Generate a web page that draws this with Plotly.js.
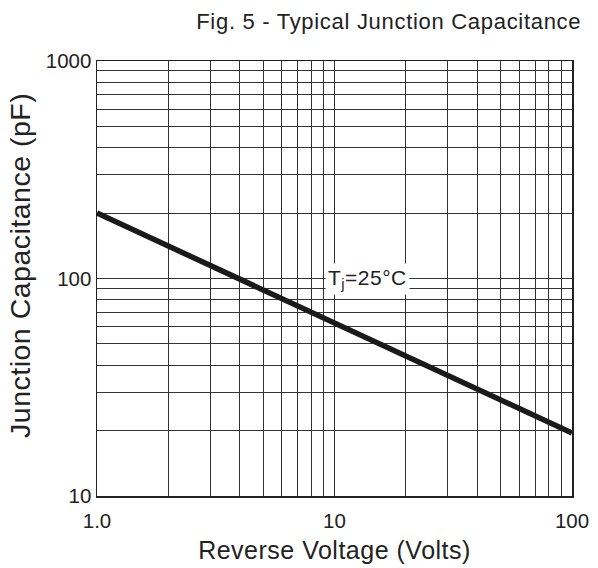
<!DOCTYPE html>
<html><head><meta charset="utf-8">
<script src="https://cdn.plot.ly/plotly-3.0.1.min.js"></script>
<style>html,body{margin:0;padding:0;background:#fff}#chart{width:598px;height:568px}
.gtitle{letter-spacing:0.7px}.xtitle,.annotation-text{letter-spacing:0.5px}</style>
</head><body><div id="chart"></div>
<script>
// Data
const reverseVoltage = [1, 100];
const junctionCap = [200, 19.5];
const xTickVals = [1,2,3,4,5,6,7,8,9,10,20,30,40,50,60,70,80,90,100];
const xTickText = ['1.0','','','','','','','','','10','','','','','','','','','100'];
const yTickVals = [10,20,30,40,50,60,70,80,90,100,200,300,400,500,600,700,800,900,1000];
const yTickText = ['10','','','','','','','','','100','','','','','','','','','1000'];
const yTitleText = 'Junction Capacitance (pF)';
const noteText = 'T<sub>j</sub>=25°C';
const noteX = 13.8, noteY = 100;

const font = {family: 'Liberation Sans, Arial, sans-serif', color: '#222'};
const data = [{
  x: reverseVoltage, y: junctionCap, type: 'scatter', mode: 'lines',
  line: {color: '#1a1a1a', width: 5.5}, hoverinfo: 'skip'
}];
const layout = {
  width: 598, height: 568,
  margin: {l: 97, r: 26, t: 61, b: 72},
  paper_bgcolor: '#fff', plot_bgcolor: '#fff',
  showlegend: false,
  font: Object.assign({size: 20}, font),
  title: {text: 'Fig. 5 - Typical Junction Capacitance', font: Object.assign({size: 22}, font),
          x: 0.972, xanchor: 'right', xref: 'container', y: 0.962, yanchor: 'middle'},
  xaxis: {
    type: 'log', range: [0, 2], tickvals: xTickVals, ticktext: xTickText,
    showgrid: true, gridcolor: '#333', gridwidth: 1, ticks: '', zeroline: false,
    showline: true, linecolor: '#222', linewidth: 1.5, mirror: true,
    tickfont: Object.assign({size: 20.5}, font), ticklabelstandoff: 6,
    title: {text: 'Reverse Voltage (Volts)', font: Object.assign({size: 25}, font), standoff: 10}
  },
  yaxis: {
    type: 'log', range: [1, 3], tickvals: yTickVals, ticktext: yTickText,
    showgrid: true, gridcolor: '#333', gridwidth: 1, ticks: '', zeroline: false,
    showline: true, linecolor: '#222', linewidth: 1.5, mirror: true,
    tickfont: Object.assign({size: 20.5}, font)
  },
  annotations: [{
    x: Math.log10(noteX), y: Math.log10(noteY), xref: 'x', yref: 'y',
    text: noteText, showarrow: false, bgcolor: '#fff',
    font: Object.assign({size: 21}, font), borderpad: 2
  }, {
    x: -0.162, y: 0.529, xref: 'paper', yref: 'paper', xanchor: 'center', yanchor: 'middle',
    text: yTitleText, textangle: -90, showarrow: false,
    font: Object.assign({size: 28.5}, font)
  }]
};
Plotly.newPlot('chart', data, layout, {displayModeBar: false, staticPlot: true});
</script></body></html>
